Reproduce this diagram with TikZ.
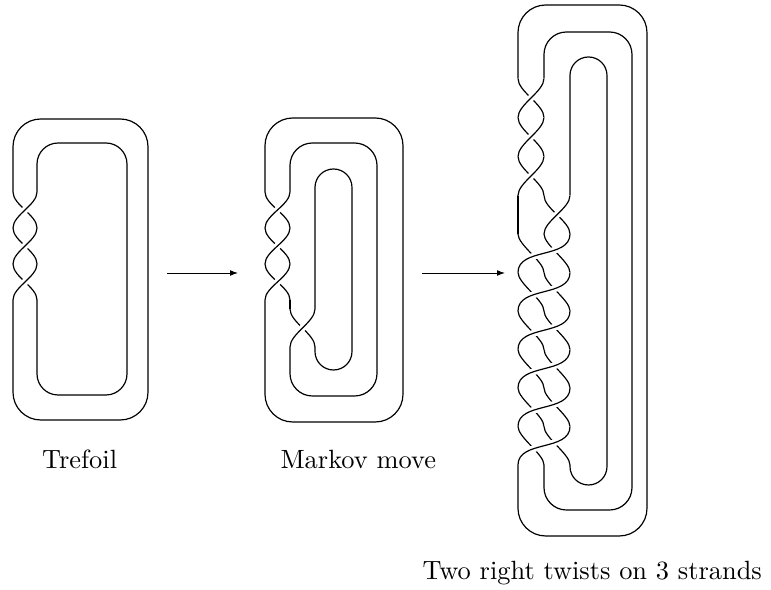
\documentclass[tikz,border=0pt]{standalone}
\usepackage{tikz}
\usetikzlibrary{arrows.meta}

\begin{document}
\begin{tikzpicture}[
    x=0.379pt, y=-0.379pt,
    strand/.style={line width=0.45pt},
    over/.style={strand, preaction={draw, white, line width=2.6pt}},
    knotlabel/.style={inner sep=0pt, anchor=base west},
    arrow/.style={-{Latex[length=3pt, width=2.2pt]}, line width=0.35pt}
]
\useasboundingbox (0,0) rectangle (771,590);

% Trefoil
\draw[strand, rounded corners=10.5pt] (13,192) -- (13,119) -- (148,119) -- (148,420) -- (13,420) -- (13,300);
\draw[strand, rounded corners=8pt] (37,192) -- (37,143) -- (127,143) -- (127,395) -- (37,395) -- (37,300);
\foreach \y in {192,228,264} {
  \draw[strand] (13,\y) .. controls (13,\y+13) and (37,\y+23) .. (37,\y+36);
  \draw[over] (37,\y) .. controls (37,\y+13) and (13,\y+23) .. (13,\y+36);
}

% Markov move
\draw[strand, rounded corners=10.5pt] (265,192) -- (265,118) -- (403,118) -- (403,422) -- (265,422) -- (265,300);
\draw[strand, rounded corners=8.5pt] (290,192) -- (290,143) -- (377,143) -- (377,396) -- (290,396) -- (290,347);
\draw[strand, rounded corners=7pt] (315,309) -- (315,169) -- (352,169) -- (352,370) -- (315,370) -- (315,347);
\draw[strand] (290,300) -- (290,309);
\foreach \y in {192,228,264} {
  \draw[strand] (265,\y) .. controls (265,\y+13) and (290,\y+23) .. (290,\y+36);
  \draw[over] (290,\y) .. controls (290,\y+13) and (265,\y+23) .. (265,\y+36);
}
\draw[strand] (290,309) .. controls (290,322) and (315,334) .. (315,347);
\draw[over] (315,309) .. controls (315,322) and (290,334) .. (290,347);

% Two right twists on 3 strands
\draw[strand, rounded corners=10.5pt] (518,78.5) -- (518,5) -- (647,5) -- (647,536) -- (518,536) -- (518,465);
\draw[strand, rounded corners=8.5pt] (544,78.5) -- (544,32) -- (632,32) -- (632,510) -- (544,510) -- (544,465);
\draw[strand, rounded corners=7pt] (570,195.5) -- (570,57) -- (607,57) -- (607,485) -- (570,485) -- (570,465);
\draw[strand] (518,195.5) -- (518,234);
\foreach \y in {78.5,117.5,156.5} {
  \draw[strand] (518,\y) .. controls (518,\y+13) and (544,\y+26) .. (544,\y+39);
  \draw[over] (544,\y) .. controls (544,\y+13) and (518,\y+26) .. (518,\y+39);
}
\draw[strand] (544,195.5) .. controls (544,208.5) and (570,221) .. (570,234);
\draw[over] (570,195.5) .. controls (570,208.5) and (544,221) .. (544,234);
\foreach \y in {234,272.5,311,349.5,388,426.5} {
  \draw[strand] (518,\y) .. controls (518,\y+11) and (544,\y+27.5) .. (544,\y+38.5);
  \draw[strand] (544,\y) .. controls (544,\y+11) and (570,\y+27.5) .. (570,\y+38.5);
  \draw[over] (570,\y) .. controls (570,\y+25) and (518,\y+13.5) .. (518,\y+38.5);
}

% Arrows
\coordinate (trefoilR) at (167,273);
\coordinate (markovL) at (238,273);
\coordinate (markovR) at (422,273);
\coordinate (twistsL) at (505,273);
\draw[arrow] (trefoilR) -- (markovL);
\draw[arrow] (markovR) -- (twistsL);

% Labels
\node[knotlabel] (trefoil) at (41.7,469) {Trefoil};
\node[knotlabel] (markov) at (280,469) {Markov move};
\node[knotlabel] (twists) at (422,580) {Two right twists on 3 strands};

\end{tikzpicture}
\end{document}
